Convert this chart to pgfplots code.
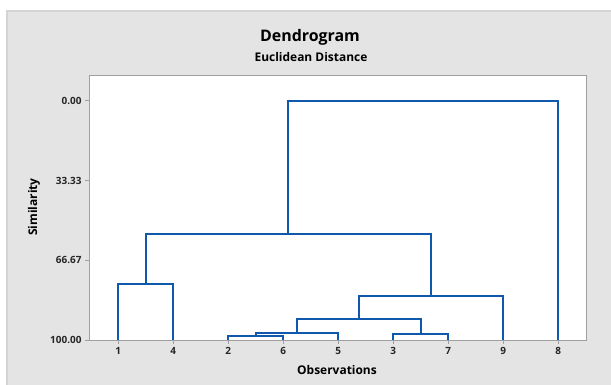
\documentclass[border=0pt]{standalone}
\usepackage{pgfplots}
\pgfplotsset{compat=1.18}
\usepackage{fontspec}
\setmainfont{Open Sans}
\definecolor{bgray}{RGB}{228,228,228}
\definecolor{bline}{RGB}{212,212,212}
\definecolor{axgray}{RGB}{160,160,160}
\definecolor{dblue}{RGB}{16,88,172}
\tikzset{dln/.style={dblue, solid, line width=2bp, mark=none, line join=miter}}
\begin{document}
\begin{tikzpicture}
\useasboundingbox (0,0) rectangle (611bp,-385bp);
\fill[white] (0,0) rectangle (611bp,-385bp);
\fill[bgray] (7bp,-11bp) rectangle (611bp,-385bp);
\draw[bline,line width=1.2bp] (7bp,-385bp) -- (7bp,-11bp) -- (611bp,-11bp);
\begin{axis}[
  scale only axis,
  width=497.5bp, height=265bp,
  anchor=south west, at={(89bp,-340bp)},
  xmin=-0.53, xmax=8.515,
  ymin=-10.75, ymax=100,
  y dir=reverse,
  axis background/.style={fill=white},
  axis line style={axgray, line width=1bp},
  xtick={0,1,2,3,4,5,6,7,8},
  xticklabels={1,4,2,6,5,3,7,9,8},
  ytick={0,33.33,66.67,100},
  yticklabels={0.00,33.33,66.67,100.00},
  xtick pos=bottom, ytick pos=left,
  tick align=outside,
  major tick length=4bp,
  tick style={axgray, line width=0.8bp},
  /pgf/number format/assume math mode=true,
  ticklabel style={font=\fontsize{10}{12}\selectfont\bfseries, text=black!85},
  clip=false,
]
\addplot[dln] coordinates {(2,100) (2,98.3) (3,98.3) (3,100)};
\addplot[dln] coordinates {(2.5,98.3) (2.5,97.0) (4,97.0) (4,100)};
\addplot[dln] coordinates {(5,100) (5,97.4) (6,97.4) (6,100)};
\addplot[dln] coordinates {(3.25,97.0) (3.25,91.4) (5.5,91.4) (5.5,97.4)};
\addplot[dln] coordinates {(4.375,91.4) (4.375,81.6) (7,81.6) (7,100)};
\addplot[dln] coordinates {(0,100) (0,76.7) (1,76.7) (1,100)};
\addplot[dln] coordinates {(0.5,76.7) (0.5,55.8) (5.6875,55.8) (5.6875,81.6)};
\addplot[dln] coordinates {(3.094,55.8) (3.094,0) (8,0) (8,100)};
\end{axis}
\node[font=\fontsize{16}{18}\selectfont\bfseries] at (310bp,-37bp) {Dendrogram};
\node[font=\fontsize{12}{14}\selectfont\bfseries] at (311bp,-57bp) {Euclidean Distance};
\node[font=\fontsize{12}{14}\selectfont\bfseries, rotate=90] at (34bp,-207bp) {Similarity};
\node[font=\fontsize{12}{14}\selectfont\bfseries] at (337bp,-370bp) {Observations};
\end{tikzpicture}
\end{document}
